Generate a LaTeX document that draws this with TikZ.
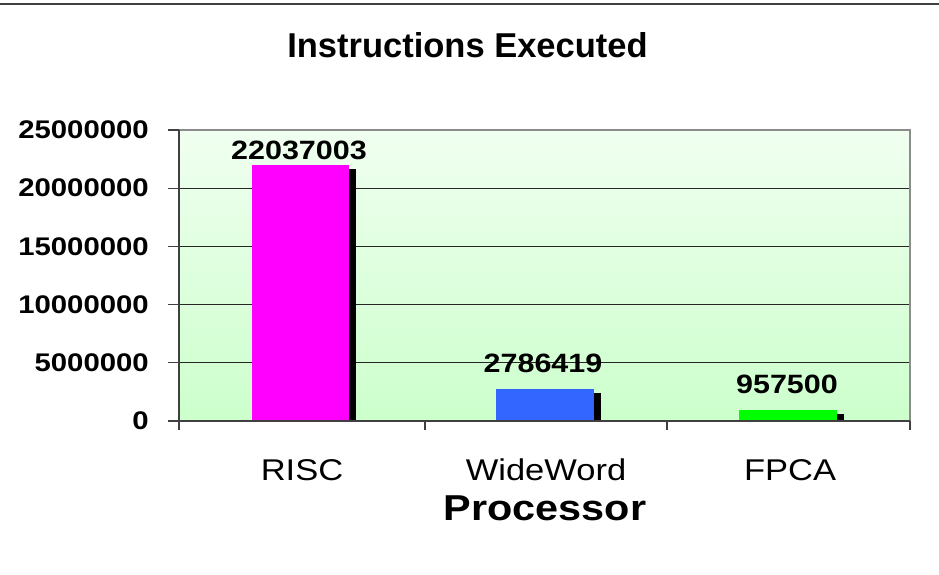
\documentclass[tikz,border=0pt]{standalone}
\usepackage{fontspec}
\setmainfont{Liberation Sans}
\newfontfamily\widesans[FakeStretch=1.15]{Liberation Sans}
\usetikzlibrary{positioning}
\definecolor{plottop}{RGB}{240,255,240}
\definecolor{plotbottom}{RGB}{204,255,204}
\definecolor{riscbar}{RGB}{255,0,255}
\definecolor{widebar}{RGB}{51,102,255}
\definecolor{fpcabar}{RGB}{0,255,0}
\definecolor{axisgray}{RGB}{64,64,64}
\definecolor{framegray}{RGB}{140,140,140}

\begin{document}
\begin{tikzpicture}[x=1pt, y=-1pt,
  ylab/.style={anchor=east, inner sep=0pt, font=\widesans\bfseries\fontsize{25.5}{27}\selectfont},
  vallab/.style={inner sep=0pt, font=\widesans\bfseries\fontsize{26.5}{28}\selectfont},
  catlab/.style={inner sep=0pt, font=\widesans\fontsize{30}{32}\selectfont},
  gridline/.style={draw=black!85, line width=1pt},
  axisline/.style={draw=axisgray, line width=1.3pt}]
\useasboundingbox (0,0) rectangle (939,574);
% rule across the top of the page
\draw[axisgray, line width=2pt] (0,3.5) -- (939,3.5);
\node[inner sep=0pt, font=\bfseries\fontsize{34.5}{36}\selectfont] (title) at (467.5,45) {Instructions Executed};
% plot area
\shade[top color=plottop, bottom color=plotbottom] (179,130) rectangle (910,421);
\foreach \v/\y in {0/421, 5000000/362.8, 10000000/304.6, 15000000/246.4, 20000000/188.2, 25000000/130} {
  \draw[gridline] (179,\y) -- (910,\y);
  \draw[axisline] (168,\y) -- (179,\y);
  \node[ylab] (y\v) at (149,\y) {\v};
}
% bars with their dark sides
\foreach \n/\l/\r/\t/\c in {risc/252/349/164.5/riscbar, wide/496/594/388.6/widebar, fpca/739/837/409.9/fpcabar} {
  \fill[black] (\r,\t+4.5) rectangle (\r+7,421);
  \fill[\c] (\l,\t) rectangle (\r,421);
}
\node[vallab] (vrisc) at (299,150) {22037003};
\node[vallab] (vwide) at (543,363) {2786419};
\node[vallab] (vfpca) at (787,384) {957500};
% frame and axes
\draw[framegray, line width=1.6pt] (179,130) -- (910,130) -- (910,421);
\draw[axisline] (179,130) -- (179,430);
\draw[axisline] (179,421) -- (910,421);
\foreach \x in {425,667,910} \draw[axisline] (\x,421) -- (\x,430);
% category labels
\node[catlab] (risc) at (302,470) {RISC};
\node[catlab] (wide) at (546,470) {WideWord};
\node[catlab] (fpca) at (790,470) {FPCA};
\node[inner sep=0pt, font=\widesans\bfseries\fontsize{36}{38}\selectfont] (xtitle) at (545,508.5) {Processor};
\end{tikzpicture}
\end{document}
